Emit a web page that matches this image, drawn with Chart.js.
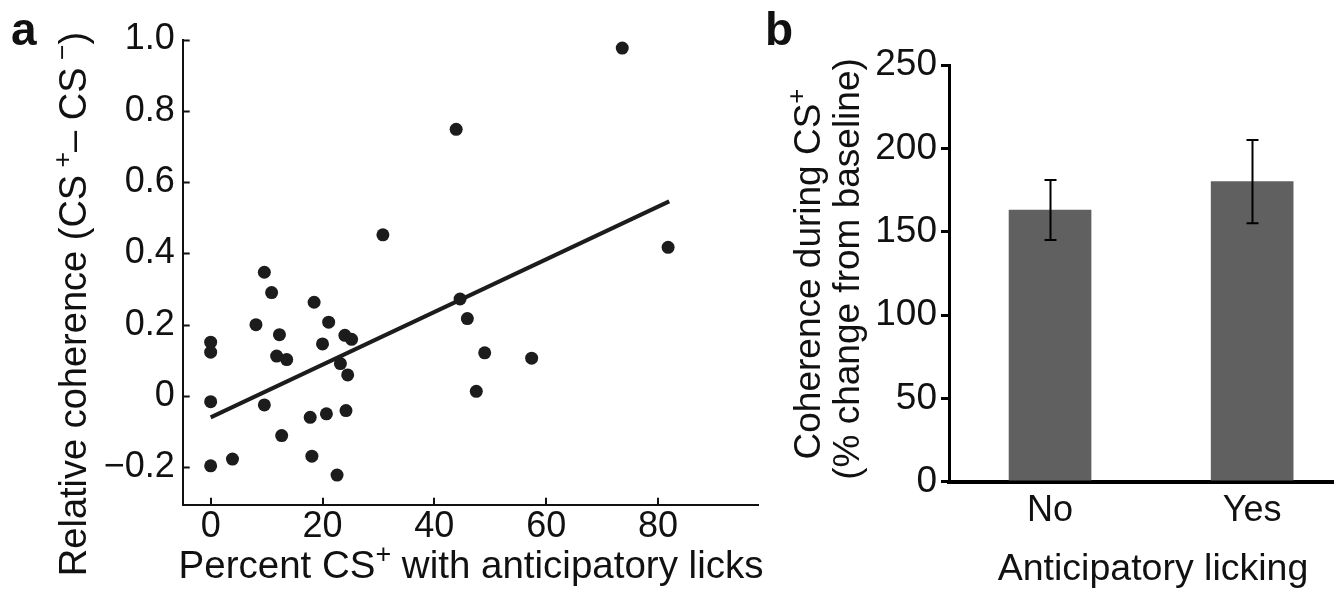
<!DOCTYPE html>
<html>
<head>
<meta charset="utf-8">
<script src="https://cdn.jsdelivr.net/npm/chart.js@4"></script>
<style>
  body { margin: 0; background: #fff; }
  #wrapA { position: absolute; left: 0; top: 0; }
  #wrapB { position: absolute; left: 760px; top: 0; }
</style>
</head>
<body>
<div id="wrapA"><canvas id="chartA" width="790" height="591"></canvas></div>
<div id="wrapB"><canvas id="chartB" width="584" height="591"></canvas></div>
<script>
// panel a: percent CS+ with licks vs relative coherence
var lickPct = [73.6, 43.9, 30.8, 81.8, 9.6, 10.9, 18.5, 44.6, 45.9, 8.1, 21.1, 12.3, 24.0, 25.2, 0, 0, 20.0,
               11.8, 13.6, 49.0, 57.4, 23.2, 24.5, 47.5, 0, 9.6, 17.8, 20.7, 24.2, 12.7, 3.9, 0, 18.1, 22.6];
var relCoherence = [0.976, 0.748, 0.452, 0.417, 0.347, 0.290, 0.263, 0.272, 0.217, 0.200, 0.207, 0.172, 0.170, 0.159, 0.151, 0.123, 0.146,
                    0.112, 0.102, 0.121, 0.106, 0.091, 0.059, 0.013, -0.016, -0.025, -0.060, -0.050, -0.041, -0.111, -0.177, -0.196, -0.169, -0.222];
var fitX = [0, 82];
var fitY = [-0.06, 0.546];
var xTicksA = [0, 20, 40, 60, 80];
var yTicksA = [-0.2, 0, 0.2, 0.4, 0.6, 0.8, 1.0];

// panel b: coherence during CS+ by licking group
var groups = ["No", "Yes"];
var coherence = [163, 180];
var sem = [18, 25];
var yTicksB = [0, 50, 100, 150, 200, 250];

var FONT = "'Liberation Sans', Arial, 'DejaVu Sans', sans-serif";
Chart.defaults.font.family = FONT;
Chart.defaults.color = "#111";

function richText(ctx, parts, size, cx, cy, angle) {
  ctx.save();
  ctx.translate(cx, cy);
  ctx.rotate(angle);
  ctx.fillStyle = "#111";
  ctx.textBaseline = "alphabetic";
  ctx.textAlign = "left";
  var total = 0;
  parts.forEach(function(p) {
    ctx.font = (p.sup ? size * 0.7 : size) + "px " + FONT;
    p.w = ctx.measureText(p.t).width;
    total += p.w;
  });
  var x = -total / 2;
  parts.forEach(function(p) {
    ctx.font = (p.sup ? size * 0.7 : size) + "px " + FONT;
    ctx.fillText(p.t, x, p.sup ? -size * 0.4 : 0);
    x += p.w;
  });
  ctx.restore();
}

function fmtA(v) {
  if (v === 0) return "0";
  var s = Math.abs(v).toFixed(1);
  return v < 0 ? "\u2212" + s : s;
}

var decorA = {
  id: "decorA",
  afterDraw: function(chart) {
    var ctx = chart.ctx, xs = chart.scales.x, ys = chart.scales.y;
    ctx.save();
    ctx.strokeStyle = "#111";
    ctx.lineWidth = 2;
    ctx.beginPath();
    yTicksA.forEach(function(v) {
      var py = Math.round(ys.getPixelForValue(v)) + 0.5;
      ctx.moveTo(xs.left, py);
      ctx.lineTo(xs.left + 7, py);
    });
    xTicksA.forEach(function(v) {
      var px = Math.round(xs.getPixelForValue(v));
      ctx.moveTo(px, ys.bottom);
      ctx.lineTo(px, ys.bottom - 7);
    });
    ctx.stroke();
    ctx.fillStyle = "#111";
    ctx.font = "bold 46px " + FONT;
    ctx.textBaseline = "alphabetic";
    ctx.fillText("a", 11, 45);
    ctx.restore();
    richText(ctx, [{t: "Percent CS"}, {t: "+", sup: true}, {t: " with anticipatory licks"}], 38.5, 471, 578, 0);
    richText(ctx, [{t: "Relative coherence (CS"}, {t: " +", sup: true}, {t: "\u2013 CS"}, {t: " \u2212", sup: true}, {t: ")"}], 38, 86, 304, -Math.PI / 2);
  }
};

var scatterPts = lickPct.map(function(x, i) { return {x: x, y: relCoherence[i]}; });
var fitPts = fitX.map(function(x, i) { return {x: x, y: fitY[i]}; });

new Chart(document.getElementById("chartA"), {
  type: "scatter",
  data: {
    datasets: [{
      data: scatterPts,
      backgroundColor: "#1c1c1c",
      borderWidth: 0,
      pointRadius: 6.5,
      clip: false
    }, {
      type: "line",
      data: fitPts,
      borderColor: "#1c1c1c",
      borderWidth: 4,
      pointRadius: 0,
      fill: false
    }]
  },
  options: {
    responsive: false,
    animation: false,
    events: [],
    layout: { padding: { top: 39.5, right: 31.3, left: 0, bottom: 0 } },
    plugins: { legend: { display: false }, tooltip: { enabled: false } },
    scales: {
      x: {
        type: "linear", min: -5, max: 98,
        afterBuildTicks: function(s) { s.ticks = xTicksA.map(function(v) { return {value: v}; }); },
        afterFit: function(s) { s.height = 86.3; },
        grid: { display: false, drawTicks: false },
        border: { display: true, color: "#111", width: 2 },
        ticks: { font: { size: 36 }, padding: 1, maxRotation: 0, callback: function(v) { return String(v); } }
      },
      y: {
        type: "linear", min: -0.305, max: 1.0,
        afterBuildTicks: function(s) { s.ticks = yTicksA.map(function(v) { return {value: v}; }); },
        afterFit: function(s) { s.width = 182.7; },
        grid: { display: false, drawTicks: false },
        border: { display: true, color: "#111", width: 2 },
        ticks: { font: { size: 36 }, padding: 8, callback: function(v) { return fmtA(v); } }
      }
    }
  },
  plugins: [decorA]
});

var decorB = {
  id: "decorB",
  afterDatasetsDraw: function(chart) {
    var ctx = chart.ctx, xs = chart.scales.x, ys = chart.scales.y;
    ctx.save();
    ctx.strokeStyle = "#000";
    ctx.lineWidth = 2;
    coherence.forEach(function(v, i) {
      var px = Math.round(xs.getPixelForValue(i + 1)) + 0.5;
      var top = ys.getPixelForValue(v + sem[i]);
      var bot = ys.getPixelForValue(v - sem[i]);
      ctx.beginPath();
      ctx.moveTo(px, top); ctx.lineTo(px, bot);
      ctx.moveTo(px - 6, top); ctx.lineTo(px + 6, top);
      ctx.moveTo(px - 6, bot); ctx.lineTo(px + 6, bot);
      ctx.stroke();
    });
    ctx.restore();
  },
  afterDraw: function(chart) {
    var ctx = chart.ctx;
    ctx.save();
    ctx.fillStyle = "#111";
    ctx.font = "bold 46px " + FONT;
    ctx.textBaseline = "alphabetic";
    ctx.fillText("b", 5, 45);
    ctx.restore();
    richText(ctx, [{t: "Coherence during CS"}, {t: "+", sup: true}], 37, 60, 274, -Math.PI / 2);
    richText(ctx, [{t: "(% change from baseline)"}], 37, 99, 269, -Math.PI / 2);
    richText(ctx, [{t: "Anticipatory licking"}], 37.5, 393, 580, 0);
  }
};

new Chart(document.getElementById("chartB"), {
  type: "bar",
  data: {
    datasets: [{
      data: coherence.map(function(v, i) { return {x: i + 1, y: v}; }),
      backgroundColor: "#606060",
      borderWidth: 0,
      barThickness: 82
    }]
  },
  options: {
    responsive: false,
    animation: false,
    events: [],
    layout: { padding: { top: 65, right: 11, left: 0, bottom: 0 } },
    plugins: { legend: { display: false }, tooltip: { enabled: false } },
    scales: {
      x: {
        type: "linear", min: 0.5, max: 2.4, offset: false,
        afterBuildTicks: function(s) { s.ticks = [{value: 1}, {value: 2}]; },
        afterFit: function(s) { s.height = 109.3; },
        grid: { display: false, drawTicks: false, offset: false },
        border: { display: true, color: "#000", width: 4 },
        ticks: { font: { size: 36 }, padding: 8, maxRotation: 0, callback: function(v) { return groups[v - 1]; } }
      },
      y: {
        min: 0, max: 250,
        afterBuildTicks: function(s) { s.ticks = yTicksB.map(function(v) { return {value: v}; }); },
        afterFit: function(s) { s.width = 189; },
        grid: { display: true, drawOnChartArea: false, drawTicks: true, tickLength: 8, color: "#000", lineWidth: 3 },
        border: { display: true, color: "#000", width: 3 },
        ticks: { font: { size: 37 }, padding: 4 }
      }
    }
  },
  plugins: [decorB]
});
</script>
</body>
</html>
